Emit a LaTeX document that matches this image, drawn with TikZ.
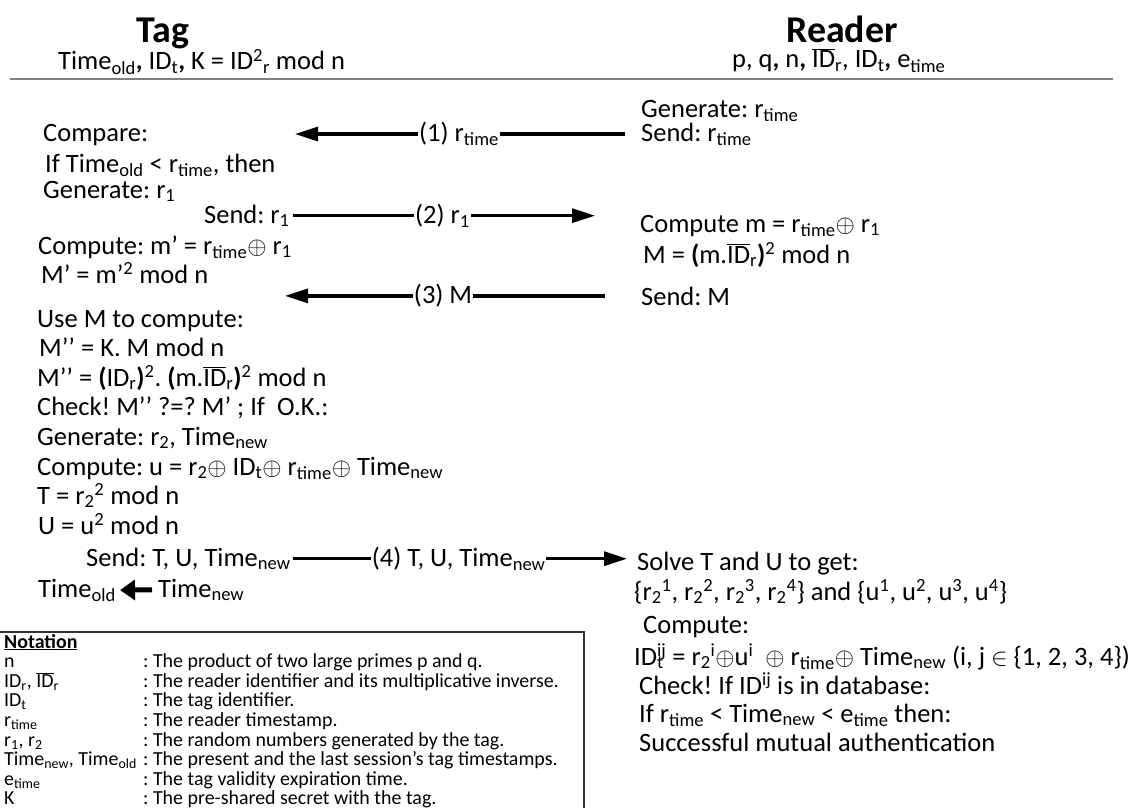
\documentclass[tikz,border=0pt]{standalone}
\usepackage{fontspec}
\setmainfont{Carlito}
\usepackage{tikz}
\usetikzlibrary{arrows.meta}
\frenchspacing
\newcommand{\hdrsize}{\fontsize{38}{46}\selectfont}
\newcommand{\bodysize}{\fontsize{26.6}{32}\selectfont}
\newcommand{\notesize}{\fontsize{20}{24}\selectfont}
\newcommand{\rtime}{r\textsubscript{time}}
\newcommand{\etime}{e\textsubscript{time}}
\newcommand{\tnew}{Time\textsubscript{new}}
\newcommand{\told}{Time\textsubscript{old}}
\newcommand{\IDbar}{\ensuremath{\overline{\mbox{ID}}}}
\newcommand{\xop}{\ensuremath{\oplus}}
\newcommand{\stk}[2]{\rlap{\textsubscript{#1}}\textsuperscript{#2}}

\begin{document}
\begin{tikzpicture}[x=1bp,y=-1bp,font=\bodysize,
  txt/.style={anchor=base west,inner sep=0pt},
  ntxt/.style={anchor=base west,inner sep=0pt,font=\notesize},
  hdr/.style={anchor=base,inner sep=0pt,font=\hdrsize\bfseries},
  msg/.style={line width=3.2bp,-{Triangle[length=23bp,width=14bp]}},
  lbl/.style={fill=white,inner sep=1bp}]
  \useasboundingbox (0,0) rectangle (1142,808);
  % headers
  \node[hdr] (tag) at (163,43) {Tag};
  \node[txt] (tagsub) at (58,70) {\told\textbf{,} ID\textsubscript{t}\textbf{,} K = ID\textsuperscript{2}\textsubscript{r} mod n};
  \node[hdr] (reader) at (842,43) {Reader};
  \node[txt] (readsub) at (732,68) {p, q\textbf{,} n\textbf{,} \IDbar\textsubscript{r}, ID\textsubscript{t}\textbf{,} \etime};
  \draw[line width=2bp,black!50] (10,79) -- (1113,79);

  % tag side
  \node[txt] (cmp) at (43,141) {Compare:};
  \node[txt] (iftime) at (45,172) {If \told{} < \rtime, then};
  \node[txt] (genr1) at (43,198) {Generate: r\textsubscript{1}};
  \node[txt] (sendr1) at (204,223) {Send: r\textsubscript{1}};
  \node[txt] (cmpmp) at (38,254) {Compute: m’ = \rtime\xop{} r\textsubscript{1}};
  \node[txt] (mp) at (41,283) {M’ = m’\textsuperscript{2} mod n};
  \node[txt] (usem) at (37,327) {Use M to compute:};
  \node[txt] (mpp) at (39,356) {M’’ = K. M mod n};
  \node[txt] (mppid) at (37,386) {M’’ = \textbf{(}ID\textsubscript{r}\textbf{)}\textsuperscript{2}. \textbf{(}m.\IDbar\textsubscript{r}\textbf{)}\textsuperscript{2} mod n};
  \node[txt] (chk) at (37,415) {Check! M’’ ?=? M’ ; If\ \ O.K.:};
  \node[txt] (genr2) at (37,445) {Generate: r\textsubscript{2}, \tnew};
  \node[txt] (cmpu) at (37,475) {Compute: u = r\textsubscript{2}\xop{} ID\textsubscript{t}\xop{} \rtime\xop{} \tnew};
  \node[txt] (tt) at (37,504) {T = r\textsubscript{2}\textsuperscript{2} mod n};
  \node[txt] (uu) at (38,534) {U = u\textsuperscript{2} mod n};
  \node[txt] (sendtu) at (86,566) {Send: T, U, \tnew};
  \node[txt] (toldn) at (38,597) {\told};
  \node[txt] (tnewn) at (158,597) {\tnew};
  \draw[line width=5bp,-{Triangle[length=15bp,width=20bp]},shorten <=6bp,shorten >=4bp] (tnewn.west) -- (toldn.east);

  % reader side
  \node[txt] (genrt) at (641,117) {Generate: \rtime};
  \node[txt] (sendrt) at (641,141) {Send: \rtime};
  \node[txt] (cmpm) at (640,232) {Compute m = \rtime\xop{} r\textsubscript{1}};
  \node[txt] (bigm) at (643,263) {M = \textbf{(}m.\IDbar\textsubscript{r}\textbf{)}\textsuperscript{2} mod n};
  \node[txt] (sendm) at (641,305) {Send: M};
  \node[txt] (solve) at (637,570) {Solve T and U to get:};
  \node[txt] (sets) at (634,600) {\{r\textsubscript{2}\textsuperscript{1}, r\textsubscript{2}\textsuperscript{2}, r\textsubscript{2}\textsuperscript{3}, r\textsubscript{2}\textsuperscript{4}\} and \{u\textsuperscript{1}, u\textsuperscript{2}, u\textsuperscript{3}, u\textsuperscript{4}\}};
  \node[txt] (cmpr) at (643,633) {Compute:};
  \node[txt] (idt) at (634,665) {ID\stk{t}{ij} = r\textsubscript{2}\textsuperscript{i}\xop{}u\textsuperscript{i} \ \xop{} \rtime\xop{} \tnew{} (i, j $\in$ \{1, 2, 3, 4\})};
  \node[txt] (chkr) at (639,694) {Check! If ID\textsuperscript{ij} is in database:};
  \node[txt] (ifr) at (639,722) {If \rtime{} < \tnew{} < \etime{} then:};
  \node[txt] (succ) at (639,751) {Successful mutual authentication};

  % messages
  \coordinate (tip1) at (295,0);
  \coordinate (tip2) at (595,0);
  \coordinate (tip3) at (285,0);
  \draw[msg,shorten <=16bp] (sendrt.west) -- (sendrt.west -| tip1)
    node[lbl,pos=.526] (m1) {(1) \rtime};
  \draw[msg,shorten <=3bp] (sendr1.east) -- (sendr1.east -| tip2)
    node[lbl,midway] (m2) {(2) r\textsubscript{1}};
  \draw[msg,shorten <=36bp] (sendm.west) -- (sendm.west -| tip3)
    node[lbl,pos=.556] (m3) {(3) M};
  \draw[msg,shorten <=2bp,shorten >=10bp] (sendtu.east) -- (sendtu.east -| solve.west)
    node[lbl,pos=.485] (m4) {(4) T, U, \tnew};

  % notation box
  \draw[line width=1.2bp,black!80] (-5,632) rectangle (584,830);
  \node[ntxt] (nhead) at (4,648) {\textbf{\underline{Notation}}};
  \node[ntxt] (sn) at (4,667.6) {n};
  \node[ntxt] (dn) at (143,667.6) {: The product of two large primes p and q.};
  \node[ntxt] (sid) at (4,687.2) {ID\textsubscript{r}, \IDbar\textsubscript{r}};
  \node[ntxt] (did) at (143,687.2) {: The reader identifier and its multiplicative inverse.};
  \node[ntxt] (sidt) at (4,706.8) {ID\textsubscript{t}};
  \node[ntxt] (didt) at (143,706.8) {: The tag identifier.};
  \node[ntxt] (srt) at (4,726.4) {\rtime};
  \node[ntxt] (drt) at (143,726.4) {: The reader timestamp.};
  \node[ntxt] (srr) at (4,746) {r\textsubscript{1}, r\textsubscript{2}};
  \node[ntxt] (drr) at (143,746) {: The random numbers generated by the tag.};
  \node[ntxt] (stt) at (4,765.6) {\tnew, \told};
  \node[ntxt] (dtt) at (143,765.6) {: The present and the last session’s tag timestamps.};
  \node[ntxt] (set) at (4,785.2) {\etime};
  \node[ntxt] (det) at (143,785.2) {: The tag validity expiration time.};
  \node[ntxt] (sk) at (4,804.8) {K};
  \node[ntxt] (dk) at (143,804.8) {: The pre-shared secret with the tag.};
\end{tikzpicture}
\end{document}
